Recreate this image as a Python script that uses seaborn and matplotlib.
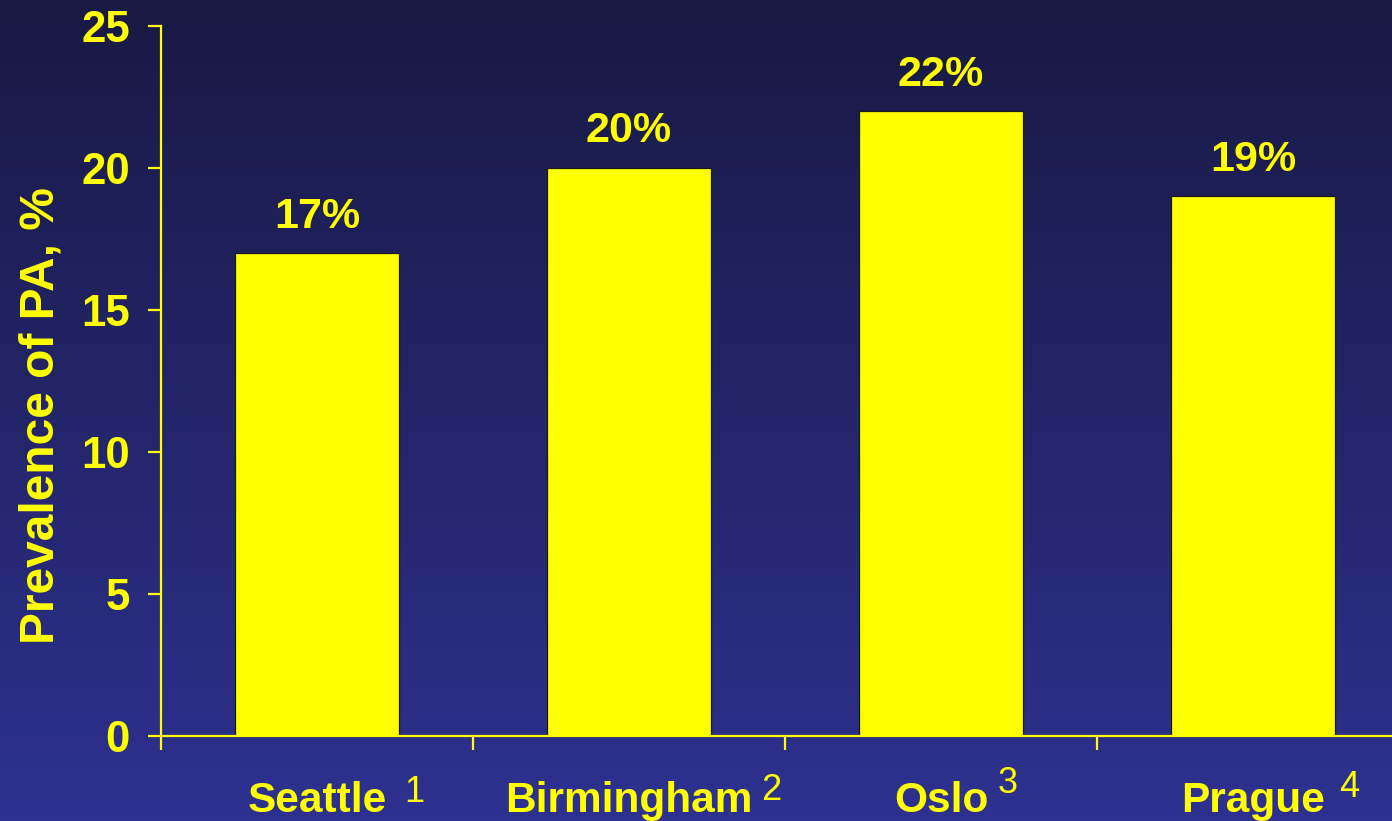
import numpy as np
import pandas as pd
import matplotlib
matplotlib.use("Agg")
import matplotlib.pyplot as plt
import matplotlib.transforms as mtransforms
from matplotlib.colors import LinearSegmentedColormap
import seaborn as sns

# Prevalence of primary aldosteronism by study site
cities = ["Seattle", "Birmingham", "Oslo", "Prague"]
refs = ["1", "2", "3", "4"]
prevalence = [17, 20, 22, 19]
y_ticks = [0, 5, 10, 15, 20, 25]

# layout / styling
W, H = 1392, 821
YELLOW = "#FFFF00"
BG_TOP, BG_BOTTOM = "#191943", "#2e3190"
PX = 0.72  # points per pixel at 100 dpi
sup_gap_px = [18, 8, 9, 14]
sup_rise_px = [10, 12, 19, 15]

sns.set_theme(style="white")
plt.rcParams["font.family"] = ["Liberation Sans", "DejaVu Sans"]

fig = plt.figure(figsize=(W / 100, H / 100), dpi=100)

# vertical gradient backdrop
bg = fig.add_axes([0, 0, 1, 1], zorder=0)
grad = np.linspace(0, 1, 256).reshape(-1, 1)
cmap = LinearSegmentedColormap.from_list("backdrop", [BG_TOP, BG_BOTTOM])
bg.imshow(grad, aspect="auto", cmap=cmap, extent=[0, 1, 0, 1], origin="upper")
bg.set_axis_off()

ax = fig.add_axes([161 / W, 85 / H, 1248 / W, 710 / H], zorder=1)
ax.patch.set_alpha(0)

df = pd.DataFrame({"city": cities, "prevalence": prevalence})
sns.barplot(data=df, x="city", y="prevalence", color=YELLOW, saturation=1,
            width=0.526, edgecolor="#1a1a1a", linewidth=0.9, ax=ax)

ax.set_xlim(-0.5, 3.5)
ax.set_ylim(0, 25)

for side in ("top", "right"):
    ax.spines[side].set_visible(False)
for side in ("left", "bottom"):
    ax.spines[side].set_color(YELLOW)
    ax.spines[side].set_linewidth(1.6)

ax.set_yticks(y_ticks)
ax.set_yticklabels([str(t) for t in y_ticks], fontsize=31.5, fontweight="bold", color=YELLOW)
ax.tick_params(axis="y", direction="out", left=True, length=9.4, width=1.6,
               color=YELLOW, pad=13)

ax.set_xticks([-0.5, 0.5, 1.5, 2.5, 3.5])
ax.set_xticklabels([])
ax.tick_params(axis="x", direction="out", bottom=True, length=10, width=1.6, color=YELLOW)
ax.set_xlabel("")

ax.set_ylabel("Prevalence of PA, %", fontsize=34.5, fontweight="bold", color=YELLOW)
ax.yaxis.set_label_coords(-0.0785, 0.452)

ax.bar_label(ax.containers[0], labels=[f"{v}%" for v in prevalence], padding=12,
             fontsize=31, fontweight="bold", color=YELLOW)

# category names with reference superscripts
trans = mtransforms.blended_transform_factory(ax.transData, ax.transAxes)
word_base = -76 / 710
for i, (city, ref) in enumerate(zip(cities, refs)):
    word = ax.text(i, word_base, city, transform=trans, ha="center", va="baseline",
                   fontsize=30.5, fontweight="bold", color=YELLOW)
    ax.annotate(ref, xy=(1, 0), xycoords=word,
                xytext=(sup_gap_px[i] * PX, sup_rise_px[i] * PX + 6.3),
                textcoords="offset points", ha="left", va="baseline",
                fontsize=26, color=YELLOW)

fig.savefig("out.png", dpi=100)
